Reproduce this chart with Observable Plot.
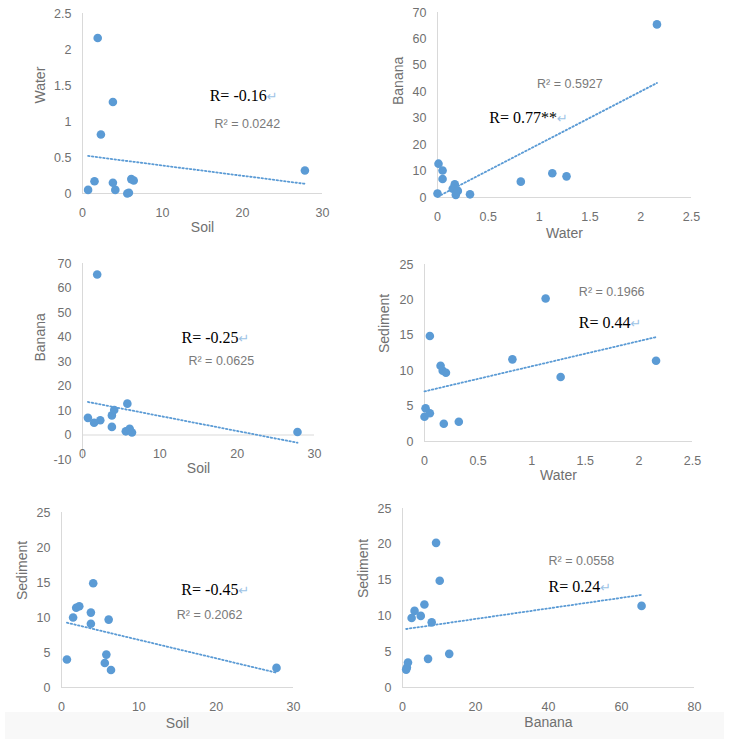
<!DOCTYPE html>
<html>
<head>
<meta charset="utf-8">
<script src="https://cdn.jsdelivr.net/npm/d3@7"></script>
<script src="https://cdn.jsdelivr.net/npm/@observablehq/plot@0.6"></script>
<style>
  html, body { margin: 0; padding: 0; background: #fff; }
  #root { position: relative; width: 732px; height: 748px; overflow: hidden; background: #fff; }
  .band { position: absolute; left: 5px; top: 712px; width: 719px; height: 27px; background: #f8f8f8; }
  .panel { position: absolute; }
</style>
</head>
<body>
<div id="root"><div class="band"></div></div>
<script>
// Samples (one entry per sample); null = not measured
const soil     = [1.9, 3.8, null, 2.3, 27.8, 4.1, 5.8, 5.6, 0.7, 1.5, 3.8, 6.1, 6.4];
const water    = [2.16, 1.27, 1.13, 0.82, 0.32, 0.05, 0.01, 0.0, 0.05, 0.17, 0.15, 0.2, 0.18];
const banana   = [65.5, 8.0, 9.2, 6.0, 1.2, 10.2, 12.8, 1.5, 7.0, 5.0, 3.3, 2.5, 1.0];
const sediment = [11.4, 9.1, 20.2, 11.6, 2.8, 14.9, 4.7, 3.5, 4.0, 10.0, 10.7, 9.7, 2.5];

// Annotation texts
const rLabels  = ["R= -0.16", "R= 0.77**", "R= -0.25", "R= 0.44", "R= -0.45", "R= 0.24"];
const r2Labels = ["R² = 0.0242", "R² = 0.5927", "R² = 0.0625", "R² = 0.1966", "R² = 0.2062", "R² = 0.0558"];

// Tick labels
const ticksSoil     = [0, 10, 20, 30];
const ticksWater    = [0, 0.5, 1, 1.5, 2, 2.5];
const ticksBanana   = [0, 10, 20, 30, 40, 50, 60, 70];
const ticksBanana3  = [-10, 0, 10, 20, 30, 40, 50, 60, 70];
const ticksBananaX  = [0, 20, 40, 60, 80];
const ticksSediment = [0, 5, 10, 15, 20, 25];

const BLUE = "#5B9BD5";
const AXIS = "#d9d9d9";
const TICK = "#707070";

const panels = [
  {xs: soil, ys: water, xl: "Soil", yl: "Water", xd: [0, 30], yd: [0, 2.5], xt: ticksSoil, yt: ticksWater,
   frame: [82, 13, 322, 193], rPos: [15.9, 1.36], r2Pos: [16.5, 0.97], ylx: 40, xly: 231},
  {xs: water, ys: banana, xl: "Water", yl: "Banana", xd: [0, 2.5], yd: [0, 70], xt: ticksWater, yt: ticksBanana,
   frame: [437, 12, 691, 197], rPos: [0.51, 30.3], r2Pos: [0.98, 43.1], ylx: 398, xly: 237},
  {xs: soil, ys: banana, xl: "Soil", yl: "Banana", xd: [0, 30], yd: [-10, 70], xt: ticksSoil, yt: ticksBanana3,
   frame: [82, 263, 314, 459], rPos: [12.8, 39.8], r2Pos: [13.7, 30.4], ylx: 40, xly: 472},
  {xs: water, ys: sediment, xl: "Water", yl: "Sediment", xd: [0, 2.5], yd: [0, 25], xt: ticksWater, yt: ticksSediment,
   frame: [424, 264, 692, 441], rPos: [1.44, 16.8], r2Pos: [1.44, 21.05], ylx: 384, xly: 479},
  {xs: soil, ys: sediment, xl: "Soil", yl: "Sediment", xd: [0, 30], yd: [0, 25], xt: ticksSoil, yt: ticksSediment,
   frame: [61, 512, 293, 687], rPos: [15.5, 14.0], r2Pos: [14.9, 10.4], ylx: 22, xly: 727},
  {xs: banana, ys: sediment, xl: "Banana", yl: "Sediment", xd: [0, 80], yd: [0, 25], xt: ticksBananaX, yt: ticksSediment,
   frame: [402, 508, 694, 687], rPos: [40, 14.0], r2Pos: [40, 17.7], ylx: 363, xly: 726}
];

const root = document.getElementById("root");
const ml = 75, mr = 25, mt = 15, mb = 55;

panels.forEach((p, k) => {
  const [fx0, fy0, fx1, fy1] = p.frame;
  const rows = d3.range(p.xs.length)
    .map(i => ({x: p.xs[i], y: p.ys[i]}))
    .filter(d => d.x != null && d.y != null);
  const width = fx1 - fx0 + ml + mr;
  const height = fy1 - fy0 + mt + mb;
  const chart = Plot.plot({
    width, height,
    marginLeft: ml, marginRight: mr, marginTop: mt, marginBottom: mb,
    style: {background: "transparent", overflow: "visible", fontFamily: "Liberation Sans, Arial, sans-serif"},
    x: {domain: p.xd, axis: null},
    y: {domain: p.yd, axis: null},
    marks: [
      Plot.ruleX([p.xd[0]], {stroke: AXIS, strokeWidth: 1}),
      Plot.ruleY([0], {stroke: AXIS, strokeWidth: 1}),
      Plot.text(p.yt, {x: p.xd[0], y: d => d, dx: -11, textAnchor: "end", fill: TICK, fontSize: 12.5}),
      Plot.text(p.xt, {x: d => d, y: 0, dy: 19, textAnchor: "middle", fill: TICK, fontSize: 12.5}),
      Plot.text([p.yl], {frameAnchor: "left", dx: p.ylx - fx0, rotate: -90, fill: TICK, fontSize: 14}),
      Plot.text([p.xl], {frameAnchor: "bottom", dy: p.xly - fy1, fill: TICK, fontSize: 14}),
      Plot.linearRegressionY(rows, {x: "x", y: "y", ci: 0, stroke: BLUE, strokeWidth: 1.8, strokeDasharray: "1.5,2.3"}),
      Plot.dot(rows, {x: "x", y: "y", r: 4.3, fill: BLUE, stroke: "none"}),
      Plot.text([r2Labels[k]], {x: () => p.r2Pos[0], y: () => p.r2Pos[1], textAnchor: "start", fill: "#7a7a7a", fontSize: 12.5}),
      Plot.text([rLabels[k]], {x: () => p.rPos[0], y: () => p.rPos[1], textAnchor: "start", fill: "#000",
        fontSize: 16, fontFamily: "Liberation Serif, Times New Roman, serif"})
    ]
  });
  // append the return-mark glyph to the R label
  chart.querySelectorAll("text").forEach(t => {
    if (t.textContent === rLabels[k]) {
      const ts = document.createElementNS("http://www.w3.org/2000/svg", "tspan");
      ts.setAttribute("fill", "#9DC3E6");
      ts.setAttribute("font-size", "13");
      ts.setAttribute("font-family", "DejaVu Sans, sans-serif");
      ts.textContent = "↵";
      t.appendChild(ts);
    }
  });
  const div = document.createElement("div");
  div.className = "panel";
  div.style.left = (fx0 - ml) + "px";
  div.style.top = (fy0 - mt) + "px";
  div.style.width = width + "px";
  div.style.height = height + "px";
  div.appendChild(chart);
  root.appendChild(div);
});
</script>
</body>
</html>
